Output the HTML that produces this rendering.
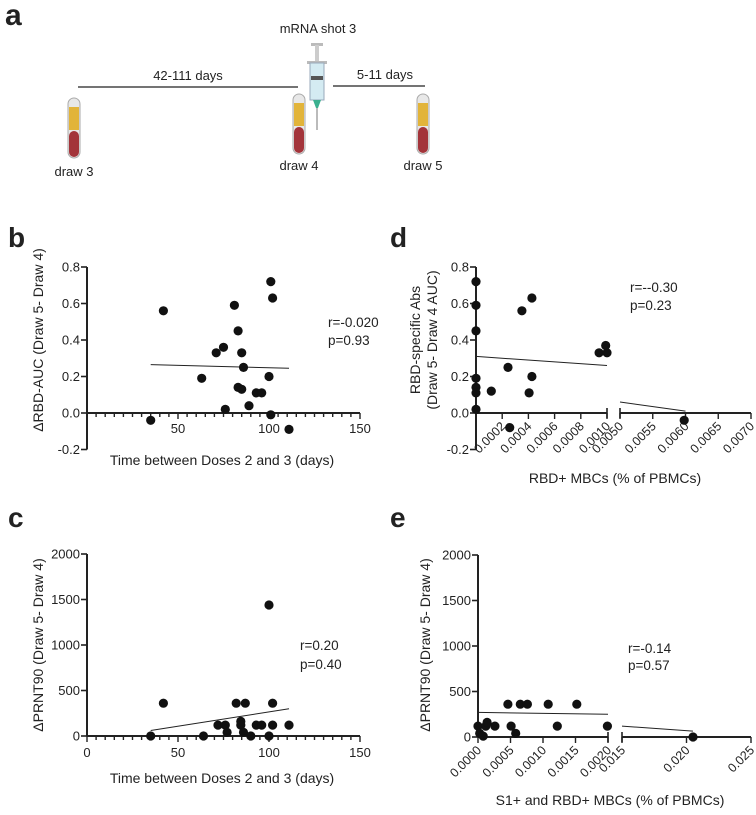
<!DOCTYPE html>
<html><head><meta charset="utf-8">
<style>
body{margin:0;background:#fff;}
svg{display:block;font-family:"Liberation Sans",Arial,sans-serif;}
text{fill:#222;}
</style></head>
<body>
<svg id="fig" width="756" height="815" viewBox="0 0 756 815" xmlns="http://www.w3.org/2000/svg">
<!-- Panel a schematic -->
<g>
<text x="5" y="25" font-size="30" font-weight="bold" fill="#111">a</text>
<text x="318" y="33" font-size="13" text-anchor="middle">mRNA shot 3</text>
<line x1="78" y1="87" x2="298" y2="87" stroke="#222" stroke-width="1.3"/>
<text x="188" y="80" font-size="13" text-anchor="middle">42-111 days</text>
<line x1="333" y1="86" x2="425" y2="86" stroke="#222" stroke-width="1.3"/>
<text x="385" y="79" font-size="13" text-anchor="middle">5-11 days</text>
<g>
<rect x="68" y="98" width="12" height="60" rx="6" fill="#e8e8e8" stroke="#aaa"/>
<rect x="69" y="107" width="10" height="23" fill="#e2b43a"/>
<rect x="69" y="131" width="10" height="26" rx="5" fill="#a3343a"/>
</g>
<g>
<rect x="293" y="94" width="12" height="60" rx="6" fill="#e8e8e8" stroke="#aaa"/>
<rect x="294" y="103" width="10" height="23" fill="#e2b43a"/>
<rect x="294" y="127" width="10" height="26" rx="5" fill="#a3343a"/>
</g>
<g>
<rect x="417" y="94" width="12" height="60" rx="6" fill="#e8e8e8" stroke="#aaa"/>
<rect x="418" y="103" width="10" height="23" fill="#e2b43a"/>
<rect x="418" y="127" width="10" height="26" rx="5" fill="#a3343a"/>
</g>
<g>
<rect x="311" y="43" width="12" height="3" fill="#bbb"/>
<rect x="315" y="45" width="4" height="18" fill="#ccc"/>
<rect x="307" y="61" width="20" height="3" fill="#bbb"/>
<rect x="310" y="63" width="14" height="37" fill="#d4ebf2" stroke="#9ab"/>
<rect x="311" y="76" width="12" height="4" fill="#555"/>
<polygon points="313,100 321,100 318,108 316,108" fill="#3bb08f"/>
<line x1="317" y1="108" x2="317" y2="130" stroke="#777" stroke-width="1"/>
</g>
<text x="74" y="176" font-size="13" text-anchor="middle">draw 3</text>
<text x="299" y="170" font-size="13" text-anchor="middle">draw 4</text>
<text x="423" y="170" font-size="13" text-anchor="middle">draw 5</text>
</g>
<text x="8" y="247" font-size="28" font-weight="bold" fill="#111">b</text>
<text x="390" y="247" font-size="28" font-weight="bold" fill="#111">d</text>
<text x="8" y="527" font-size="28" font-weight="bold" fill="#111">c</text>
<text x="390" y="527" font-size="28" font-weight="bold" fill="#111">e</text>
</svg>
<script>
// Panel b data
const bDays = [42,35,63,71,75,76,81,83,83,85,85,86,89,93,96,100,101,101,102,111];
const bDelta = [0.56,-0.04,0.19,0.33,0.36,0.02,0.59,0.45,0.14,0.13,0.33,0.25,0.04,0.11,0.11,0.20,-0.01,0.72,0.63,-0.09];
const bFit = [0.265,0.245]; // at x 35 and 111
const bFitX = [35,111];
const bYTicks = [-0.2,0,0.2,0.4,0.6,0.8];
const bYLabels = ["-0.2","0.0","0.2","0.4","0.6","0.8"];
const bXTicks = [50,100,150];
// Panel c data
const cDays = [35,42,64,72,76,77,82,84.5,84.5,86,87,90,93,96,100,100,102,102,111];
const cPrnt = [0,360,0,120,120,40,360,160,120,40,360,0,120,120,1440,0,360,120,120];
const cFitX = [35,111];
const cFit = [60,300];
const cYTicks = [0,500,1000,1500,2000];
const cXTicks = [0,50,100,150];
// Panel d data
const dMbc = [0,0,0,0,0,0,0,0.000117,0.000244,0.000257,0.00035,0.000405,0.000427,0.000427,0.00094,0.00099,0.001,0.00598];
const dDelta = [0.72,0.59,0.45,0.19,0.14,0.11,0.02,0.12,0.25,-0.08,0.56,0.11,0.20,0.63,0.33,0.37,0.33,-0.04];
const dFitX = [0,0.006];
const dFit = [0.31,0.01];
const dXTicksLeft = [0.0002,0.0004,0.0006,0.0008,0.0010];
const dXLabelsLeft = ["0.0002","0.0004","0.0006","0.0008","0.0010"];
const dXTicksRight = [0.005,0.0055,0.006,0.0065,0.007];
const dXLabelsRight = ["0.0050","0.0055","0.0060","0.0065","0.0070"];
// Panel e data
const eMbc = [0,0.000026,0.00008,0.00012,0.00014,0.00026,0.00046,0.00051,0.00058,0.00065,0.00076,0.00108,0.00122,0.00152,0.00199,0.0205];
const ePrnt = [120,40,10,120,160,120,360,120,40,360,360,360,120,360,120,0];
const eFitX = [0,0.0205];
const eFit = [270,65];
const eXTicksLeft = [0,0.0005,0.001,0.0015,0.002];
const eXLabelsLeft = ["0.0000","0.0005","0.0010","0.0015","0.0020"];
const eXTicksRight = [0.015,0.02,0.025];
const eXLabelsRight = ["0.015","0.020","0.025"];

const NS = "http://www.w3.org/2000/svg";
const svg = document.getElementById('fig');
function mk(tag, attrs, parent, txt){
  const e = document.createElementNS(NS, tag);
  for (const k in attrs) e.setAttribute(k, attrs[k]);
  if (txt !== undefined) e.textContent = txt;
  (parent||svg).appendChild(e);
  return e;
}
function lin(d0,d1,r0,r1){ return v => r0 + (v-d0)/(d1-d0)*(r1-r0); }
// piecewise broken x scale
function brokenX(l0,l1,L0,L1,r0,r1,R0,R1){
  return v => v <= l1*1.0001 ? lin(l0,l1,L0,L1)(v) : lin(r0,r1,R0,R1)(v);
}
function dot(g, x, y){
  const c = mk('circle',{cx:x.toFixed(1),cy:y.toFixed(1),r:4.6,fill:'#111'},g);
  
  
}
function yAxis(g, x, ys, yTop, yBot, ticks, labels){
  mk('line',{x1:x,y1:yTop,x2:x,y2:yBot,stroke:'#222','stroke-width':2},g);
  ticks.forEach((t,i)=>{
    const y = ys(t);
    mk('line',{x1:x-6,y1:y,x2:x,y2:y,stroke:'#222','stroke-width':1.6},g);
    const tx = mk('text',{x:x-7,y:y+4.5,'font-size':13,'text-anchor':'end'},g,labels[i]);
    
    
  });
}
function rotLabel(g, x, y, str, name){
  const t = mk('text',{x:x,y:y,'font-size':12.5,'text-anchor':'end',transform:`rotate(-45 ${x} ${y})`},g,str);
  
  
}

// ---------- Panel b ----------
(function(){
  const g = mk('g',{});
  
  
  const xs = lin(0,150,87,360), ys = lin(0,0.8,413,267);
  yAxis(g,87,ys,ys(0.8),ys(-0.2),bYTicks,bYLabels);
  mk('line',{x1:87,y1:ys(0),x2:360,y2:ys(0),stroke:'#222','stroke-width':2},g);
  for(let d=5; d<=150; d+=5){
    const major = d%50===0;
    mk('line',{x1:xs(d),y1:ys(0),x2:xs(d),y2:ys(0)+(major?6:4),stroke:'#222','stroke-width':1.4},g);
  }
  bXTicks.forEach(t=>{
    const tx = mk('text',{x:xs(t),y:ys(0)+20,'font-size':13,'text-anchor':'middle'},g,String(t));
    
    
  });
  const fl = mk('line',{x1:xs(bFitX[0]),y1:ys(bFit[0]),x2:xs(bFitX[1]),y2:ys(bFit[1]),stroke:'#222','stroke-width':1},g);
  
  
  bDays.forEach((d,i)=>dot(g,xs(d),ys(bDelta[i])));
  let t = mk('text',{x:328,y:327,'font-size':13.5},g,'r=-0.020');  
  t = mk('text',{x:328,y:345,'font-size':13.5},g,'p=0.93');  
  t = mk('text',{x:222,y:465,'font-size':14,'text-anchor':'middle'},g,'Time between Doses 2 and 3 (days)');  
  t = mk('text',{x:43,y:340,'font-size':14,'text-anchor':'middle',transform:'rotate(-90 43 340)'},g,'ΔRBD-AUC (Draw 5- Draw 4)');  
})();

// ---------- Panel c ----------
(function(){
  const g = mk('g',{});
  
  
  const xs = lin(0,150,87,360), ys = lin(0,2000,736,554);
  yAxis(g,87,ys,ys(2000),ys(0),cYTicks,cYTicks.map(String));
  mk('line',{x1:87,y1:ys(0),x2:360,y2:ys(0),stroke:'#222','stroke-width':2},g);
  for(let d=0; d<=150; d+=5){
    const major = d%50===0;
    mk('line',{x1:xs(d),y1:ys(0),x2:xs(d),y2:ys(0)+(major?6:4),stroke:'#222','stroke-width':1.4},g);
  }
  cXTicks.forEach(t=>{
    const tx = mk('text',{x:xs(t),y:ys(0)+21,'font-size':13,'text-anchor':'middle'},g,String(t));
    
    
  });
  const fl = mk('line',{x1:xs(cFitX[0]),y1:ys(cFit[0]),x2:xs(cFitX[1]),y2:ys(cFit[1]),stroke:'#222','stroke-width':1},g);
  
  
  cDays.forEach((d,i)=>dot(g,xs(d),ys(cPrnt[i])));
  let t = mk('text',{x:300,y:650,'font-size':13.5},g,'r=0.20');  
  t = mk('text',{x:300,y:669,'font-size':13.5},g,'p=0.40');  
  t = mk('text',{x:222,y:783,'font-size':14,'text-anchor':'middle'},g,'Time between Doses 2 and 3 (days)');  
  t = mk('text',{x:43,y:645,'font-size':14,'text-anchor':'middle',transform:'rotate(-90 43 645)'},g,'ΔPRNT90 (Draw 5- Draw 4)');  
})();

// ---------- Panel d ----------
(function(){
  const g = mk('g',{});
  
  
  const xs = brokenX(0,0.001,476,607,0.005,0.007,620,751), ys = lin(0,0.8,413,267);
  yAxis(g,476,ys,ys(0.8),ys(-0.2),bYTicks,bYLabels);
  const y0 = ys(0);
  mk('line',{x1:476,y1:y0,x2:607,y2:y0,stroke:'#222','stroke-width':2},g);
  mk('line',{x1:620,y1:y0,x2:751,y2:y0,stroke:'#222','stroke-width':2},g);
  mk('line',{x1:620,y1:y0-5,x2:620,y2:y0+5,stroke:'#222','stroke-width':1.6},g);
  mk('line',{x1:607,y1:y0-5,x2:607,y2:y0+5,stroke:'#222','stroke-width':1.6},g);
  dXTicksLeft.forEach((t,i)=>{
    mk('line',{x1:xs(t),y1:y0,x2:xs(t),y2:y0+6,stroke:'#222','stroke-width':1.4},g);
    rotLabel(g,xs(t)+4,y0+14,dXLabelsLeft[i],'x-tick-label');
  });
  dXTicksRight.forEach((t,i)=>{
    mk('line',{x1:xs(t),y1:y0,x2:xs(t),y2:y0+6,stroke:'#222','stroke-width':1.4},g);
    rotLabel(g,xs(t)+4,y0+14,dXLabelsRight[i],'x-tick-label');
  });
  const slope = (dFit[1]-dFit[0])/(dFitX[1]-dFitX[0]);
  const f = v => dFit[0] + slope*(v-dFitX[0]);
  let fl = mk('line',{x1:xs(dFitX[0]),y1:ys(f(dFitX[0])),x2:xs(0.001),y2:ys(f(0.001)),stroke:'#222','stroke-width':1},g);
  
  
  fl = mk('line',{x1:xs(0.005),y1:ys(f(0.005)),x2:xs(dFitX[1]),y2:ys(f(dFitX[1])),stroke:'#222','stroke-width':1},g);
  
  
  dMbc.forEach((d,i)=>dot(g,xs(d),ys(dDelta[i])));
  let t = mk('text',{x:630,y:292,'font-size':13.5},g,'r=--0.30');  
  t = mk('text',{x:630,y:310,'font-size':13.5},g,'p=0.23');  
  t = mk('text',{x:615,y:483,'font-size':14,'text-anchor':'middle'},g,'RBD+ MBCs (% of PBMCs)');  
  t = mk('text',{x:420,y:340,'font-size':14,'text-anchor':'middle',transform:'rotate(-90 420 340)'},g,'RBD-specific Abs');  
  t = mk('text',{x:437,y:340,'font-size':14,'text-anchor':'middle',transform:'rotate(-90 437 340)'},g,'(Draw 5- Draw 4 AUC)');  
})();

// ---------- Panel e ----------
(function(){
  const g = mk('g',{});
  
  
  const xs = brokenX(0,0.002,478,608,0.015,0.025,622,751), ys = lin(0,2000,737,555);
  yAxis(g,478,ys,ys(2000),ys(0),cYTicks,cYTicks.map(String));
  const y0 = ys(0);
  mk('line',{x1:478,y1:y0,x2:608,y2:y0,stroke:'#222','stroke-width':2},g);
  mk('line',{x1:622,y1:y0,x2:751,y2:y0,stroke:'#222','stroke-width':2},g);
  mk('line',{x1:622,y1:y0-5,x2:622,y2:y0+5,stroke:'#222','stroke-width':1.6},g);
  mk('line',{x1:608,y1:y0-5,x2:608,y2:y0+5,stroke:'#222','stroke-width':1.6},g);
  eXTicksLeft.forEach((t,i)=>{
    mk('line',{x1:xs(t),y1:y0,x2:xs(t),y2:y0+6,stroke:'#222','stroke-width':1.4},g);
    rotLabel(g,xs(t)+4,y0+14,eXLabelsLeft[i],'x-tick-label');
  });
  eXTicksRight.forEach((t,i)=>{
    mk('line',{x1:xs(t),y1:y0,x2:xs(t),y2:y0+6,stroke:'#222','stroke-width':1.4},g);
    rotLabel(g,xs(t)+4,y0+14,eXLabelsRight[i],'x-tick-label');
  });
  const slope = (eFit[1]-eFit[0])/(eFitX[1]-eFitX[0]);
  const f = v => eFit[0] + slope*(v-eFitX[0]);
  let fl = mk('line',{x1:xs(eFitX[0]),y1:ys(f(eFitX[0])),x2:xs(0.002),y2:ys(f(0.002)),stroke:'#222','stroke-width':1},g);
  
  
  fl = mk('line',{x1:xs(0.015),y1:ys(f(0.015)),x2:xs(eFitX[1]),y2:ys(f(eFitX[1])),stroke:'#222','stroke-width':1},g);
  
  
  eMbc.forEach((d,i)=>dot(g,xs(d),ys(ePrnt[i])));
  let t = mk('text',{x:628,y:653,'font-size':13.5},g,'r=-0.14');  
  t = mk('text',{x:628,y:670,'font-size':13.5},g,'p=0.57');  
  t = mk('text',{x:610,y:805,'font-size':14,'text-anchor':'middle'},g,'S1+ and RBD+ MBCs (% of PBMCs)');  
  t = mk('text',{x:430,y:645,'font-size':14,'text-anchor':'middle',transform:'rotate(-90 430 645)'},g,'ΔPRNT90 (Draw 5- Draw 4)');  
})();
</script>
</body></html>
